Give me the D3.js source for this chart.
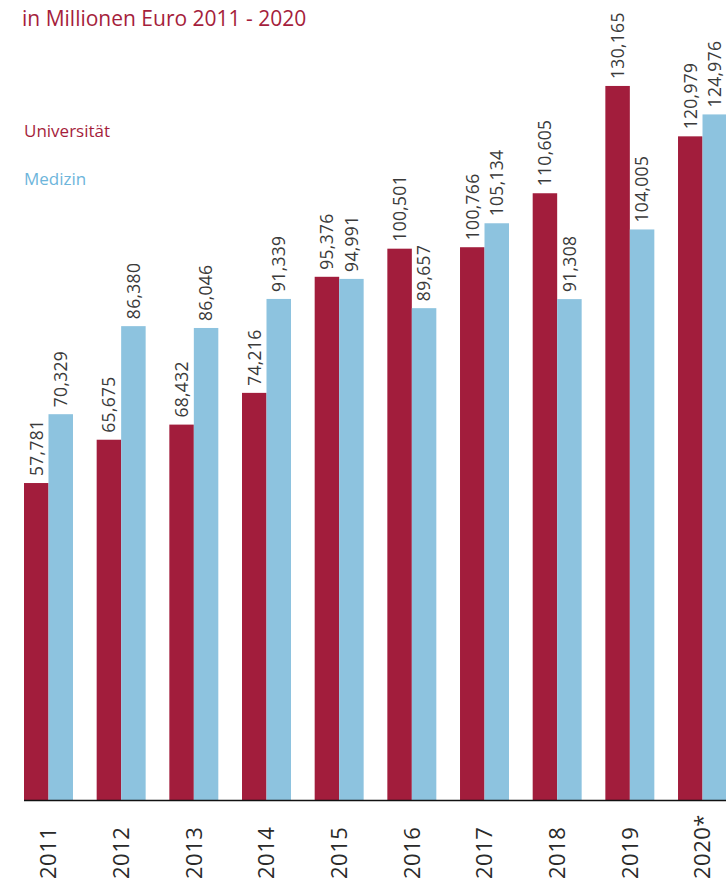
<!DOCTYPE html>
<html>
<head>
  <meta charset="utf-8" />
  <title>Drittmittel</title>
  <style>
    body { margin: 0; background: #fff; }
    svg { display: block; }
  </style>
</head>
<body>
  <script src="https://cdn.jsdelivr.net/npm/d3@7"></script>
  <script>
    // data (Mio. Euro)
    var years = ["2011", "2012", "2013", "2014", "2015", "2016", "2017", "2018", "2019", "2020*"];
    var universitaet = [57.781, 65.675, 68.432, 74.216, 95.376, 100.501, 100.766, 110.605, 130.165, 120.979];
    var medizin = [70.329, 86.38, 86.046, 91.339, 94.991, 89.657, 105.134, 91.308, 104.005, 124.976];
    var seriesNames = ["Universität", "Medizin"];
    var colors = ["#a21d3c", "#8dc3df"];
    var textColors = ["#a51e3c", "#6db5db"];

    var width = 726, height = 881;
    var baseline = 800;

    var svg = d3.select("body").append("svg")
      .attr("width", width)
      .attr("height", height);

    var x = d3.scaleBand()
      .domain(years)
      .range([24, 727])
      .paddingInner(0.326)
      .paddingOuter(0);

    var xs = d3.scaleBand()
      .domain(seriesNames)
      .range([0, x.bandwidth()]);

    var y = d3.scaleLinear()
      .domain([0, 140])
      .range([baseline, 32]);

    var fmt = function (v) {
      return d3.format(".3f")(v).replace(".", ",");
    };

    var rows = years.map(function (yr, i) {
      return { year: yr, values: [universitaet[i], medizin[i]] };
    });

    var groups = svg.append("g").selectAll("g")
      .data(rows)
      .enter()
      .append("g")
      .attr("transform", function (d) { return "translate(" + x(d.year) + ",0)"; });

    groups.selectAll("rect")
      .data(function (d) { return d.values; })
      .enter()
      .append("rect")
      .attr("x", function (d, i) { return xs(seriesNames[i]); })
      .attr("width", xs.bandwidth())
      .attr("y", function (d) { return y(d); })
      .attr("height", function (d) { return baseline - y(d); })
      .attr("fill", function (d, i) { return colors[i]; });

    // value labels, rotated
    groups.selectAll("text.val")
      .data(function (d) { return d.values; })
      .enter()
      .append("text")
      .attr("class", "val")
      .attr("transform", function (d, i) {
        var cx = xs(seriesNames[i]) + xs.bandwidth() / 2;
        return "translate(" + cx + "," + (y(d) - 7) + ") rotate(-90)";
      })
      .attr("dy", "0.36em")
      .attr("text-anchor", "start")
      .style("font-family", "'Open Sans', sans-serif")
      .style("font-size", "17.5px")
      .style("letter-spacing", "0.3px")
      .style("fill", "#3a3a3a")
      .text(function (d) { return fmt(d); });

    // x axis
    var xAxis = d3.axisBottom(x).tickSize(0).tickPadding(0);
    var ax = svg.append("g")
      .attr("transform", "translate(0," + baseline + ")")
      .call(xAxis);
    ax.select(".domain").remove();
    ax.selectAll("text")
      .attr("transform", "translate(0,79) rotate(-90)")
      .attr("y", 0)
      .attr("dy", "0.36em")
      .attr("text-anchor", "start")
      .style("font-family", "'Open Sans', sans-serif")
      .style("font-size", "22px")
      .style("letter-spacing", "0.5px")
      .style("fill", "#2a2a2a");

    svg.append("line")
      .attr("x1", 24).attr("x2", width)
      .attr("y1", baseline + 0.5).attr("y2", baseline + 0.5)
      .attr("stroke", "#111")
      .attr("stroke-width", 1.5);

    // title
    svg.append("text")
      .attr("x", 22)
      .attr("y", 26)
      .style("font-family", "'Open Sans', sans-serif")
      .style("font-size", "21px")
      .style("fill", textColors[0])
      .text("in Millionen Euro 2011 - 2020");

    // legend
    svg.selectAll("text.legend")
      .data(seriesNames)
      .enter()
      .append("text")
      .attr("class", "legend")
      .attr("x", 24)
      .attr("y", function (d, i) { return 137 + i * 48; })
      .style("font-family", "'Open Sans', sans-serif")
      .style("font-size", "17px")
      .style("fill", function (d, i) { return textColors[i]; })
      .text(function (d) { return d; });
  </script>
</body>
</html>
